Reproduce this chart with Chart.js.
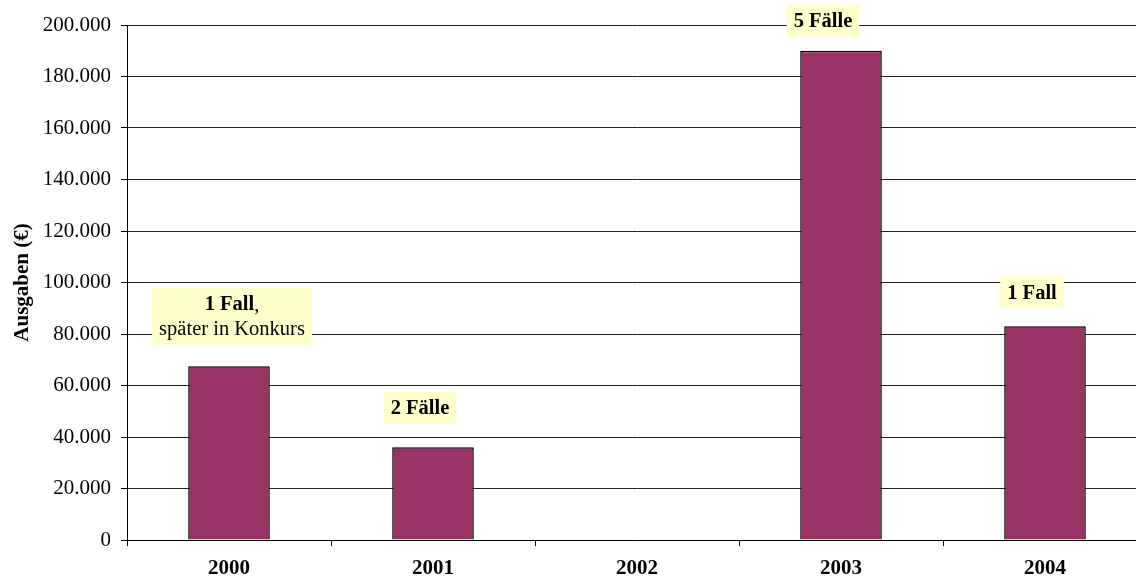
<!DOCTYPE html>
<html>
<head>
<meta charset="utf-8">
<script src="https://cdn.jsdelivr.net/npm/chart.js@4.4.1/dist/chart.umd.min.js"></script>
<style>
	html, body { margin:0; padding:0; background:#fff; overflow:hidden; }
	#wrap { width:1147px; height:581px; }
</style>
</head>
<body>
<div id="wrap"><canvas id="ausgabenChart"></canvas></div>
<script>
var years = ['2000', '2001', '2002', '2003', '2004']
var ausgaben = [67500, 36000, 0, 190000, 83000]
var faelle = ['1 Fall', '2 Fälle', '', '5 Fälle', '1 Fall']
var notiz = ['später in Konkurs', '', '', '', '']
var yTicks = [0, 20000, 40000, 60000, 80000, 100000, 120000, 140000, 160000, 180000, 200000]

function fmtDe( v ) {
	return String(v).replace(/\B(?=(\d{3})+(?!\d))/g, '.')
}

var serif = '"Liberation Serif", "Times New Roman", serif'

// yellow boxes above the bars, offsets in pixels from bar centre / bar top
var boxShift = [3, -13, 0, -18, -13]
var boxGap = [21, 24, 0, 14, 18]

var labelPlugin = {
	id: 'faelleLabels',
	afterDatasetsDraw: function( chart ) {
		var ctx = chart.ctx
		var meta = chart.getDatasetMeta(0)
		var yS = chart.scales.y
		ctx.save()
		ctx.textBaseline = 'middle'
		for( var i = 0; i < faelle.length; i++ ) {
			if( !faelle[i] ) continue
			var cx = meta.data[i].x + boxShift[i]
			var bottom = yS.getPixelForValue(ausgaben[i]) - boxGap[i]
			var bold = 'bold 20.5px ' + serif
			var norm = '20.5px ' + serif
			ctx.font = bold
			var w1 = ctx.measureText(faelle[i]).width
			var comma = notiz[i] ? ',' : ''
			ctx.font = norm
			var wc = ctx.measureText(comma).width
			var w2 = notiz[i] ? ctx.measureText(notiz[i]).width : 0
			var w = Math.max(w1 + wc, w2) + 14
			var h = notiz[i] ? 57 : 32
			var top = bottom - h
			ctx.fillStyle = '#ffffcc'
			ctx.fillRect(cx - w / 2, top, w, h)
			ctx.fillStyle = '#000'
			ctx.textAlign = 'left'
			var lx = cx - (w1 + wc) / 2
			var ly = top + 17
			ctx.font = bold
			ctx.fillText(faelle[i], lx, ly)
			if( notiz[i] ) {
				ctx.font = norm
				ctx.fillText(comma, lx + w1, ly)
				ctx.textAlign = 'center'
				ctx.fillText(notiz[i], cx, ly + 24)
			}
		}
		ctx.restore()
	}
}

var ctx = document.getElementById('ausgabenChart')
var myChart = new Chart( ctx, {
	type: 'bar',
	data: {
		labels: years,
		datasets: [{
			label: 'Ausgaben',
			data: ausgaben,
			backgroundColor: '#993366',
			borderColor: '#000000',
			borderWidth: 1.5,
			barPercentage: 0.4,
			categoryPercentage: 1.0
		}]
	},
	options: {
		responsive: true,
		maintainAspectRatio: false,
		animation: false,
		devicePixelRatio: 1,
		layout: { padding: { top: 25, left: 10, right: 0, bottom: 0 } },
		plugins: {
			legend: { display: false },
			tooltip: { enabled: false }
		},
		scales: {
			x: {
				grid: {
					display: true,
					drawOnChartArea: false,
					drawTicks: true,
					tickLength: 6,
					color: '#000',
					offset: true
				},
				border: { color: '#000', width: 1 },
				ticks: {
					color: '#000',
					padding: 10,
					font: { family: serif, size: 21, weight: 'bold' }
				},
				afterFit: function( s ) { s.height = 41 }
			},
			y: {
				min: 0,
				max: 200000,
				afterBuildTicks: function( s ) { s.ticks = yTicks.map(function(v){ return { value: v } }) },
				grid: {
					color: '#222',
					lineWidth: 1,
					drawTicks: true,
					tickLength: 6,
					tickColor: '#000'
				},
				border: { color: '#000', width: 1 },
				ticks: {
					color: '#000',
					padding: 10,
					font: { family: serif, size: 21 },
					callback: function( v ) { return fmtDe(v) }
				},
				title: {
					display: true,
					text: 'Ausgaben (€)',
					color: '#000',
					padding: 0,
					font: { family: serif, size: 21, weight: 'bold' }
				},
				afterFit: function( s ) { s.width = 117 }
			}
		}
	},
	plugins: [labelPlugin]
})
</script>
</body>
</html>
